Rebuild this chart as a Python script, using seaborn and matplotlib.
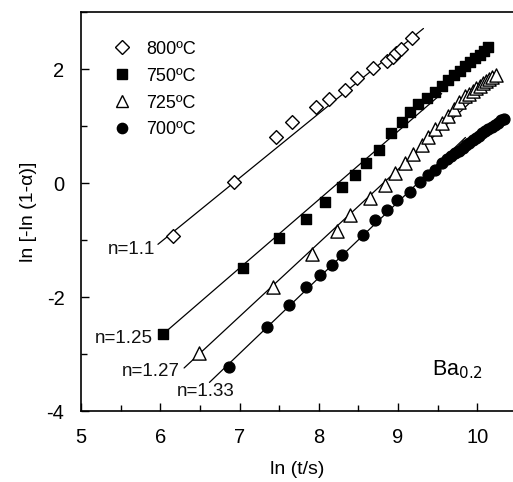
import numpy as np
import pandas as pd
import matplotlib
matplotlib.use("Agg")
import matplotlib.pyplot as plt
import seaborn as sns
from matplotlib.lines import Line2D
from matplotlib.ticker import MultipleLocator

# ---- data ----
temps = ["800ºC", "750ºC", "725ºC", "700ºC"]

x800 = [6.16, 6.93, 7.46, 7.66, 7.97, 8.13, 8.33, 8.48, 8.68, 8.86, 8.93, 8.98, 9.04, 9.18]
y800 = [-0.93, 0.02, 0.80, 1.07, 1.33, 1.47, 1.64, 1.84, 2.01, 2.15, 2.22, 2.28, 2.35, 2.54]

x750 = [6.04, 7.04, 7.50, 7.84, 8.08, 8.29, 8.46, 8.60, 8.76, 8.91, 9.05, 9.15, 9.25, 9.36,
        9.46, 9.55, 9.63, 9.71, 9.78, 9.85, 9.91, 9.97, 10.03, 10.09, 10.14]
y750 = [-2.64, -1.49, -0.96, -0.63, -0.34, -0.07, 0.14, 0.35, 0.58, 0.88, 1.07, 1.24, 1.38, 1.49,
        1.60, 1.70, 1.80, 1.89, 1.97, 2.05, 2.12, 2.19, 2.25, 2.32, 2.38]

x725 = [6.49, 7.42, 7.91, 8.23, 8.39, 8.65, 8.84, 8.96, 9.09, 9.19, 9.30, 9.38, 9.47, 9.55,
        9.63, 9.70, 9.77, 9.84, 9.89, 9.94, 9.98, 10.03, 10.07, 10.11, 10.15, 10.19, 10.24]
y725 = [-2.98, -1.82, -1.24, -0.84, -0.56, -0.26, -0.04, 0.18, 0.35, 0.51, 0.67, 0.81, 0.94, 1.06,
        1.18, 1.30, 1.42, 1.52, 1.57, 1.62, 1.67, 1.71, 1.75, 1.79, 1.83, 1.86, 1.90]

x700 = [6.87, 7.35, 7.63, 7.84, 8.02, 8.17, 8.29, 8.56, 8.71, 8.86, 8.99, 9.15, 9.28, 9.38,
        9.47, 9.56, 9.62, 9.67, 9.72, 9.77, 9.82, 9.86, 9.90, 9.94, 9.98, 10.02, 10.06,
        10.10, 10.14, 10.18, 10.22, 10.26, 10.30, 10.34]
y700 = [-3.22, -2.52, -2.14, -1.82, -1.61, -1.44, -1.26, -0.91, -0.65, -0.47, -0.30, -0.16, 0.02, 0.14,
        0.23, 0.35, 0.42, 0.47, 0.52, 0.57, 0.62, 0.67, 0.71, 0.75, 0.79, 0.83, 0.87,
        0.91, 0.95, 0.99, 1.02, 1.06, 1.10, 1.13]

# fitted lines (slope, intercept, x-range)
fit_slope = [1.13, 1.20, 1.29, 1.33]
fit_icpt = [-7.82, -9.89, -11.37, -12.30]
fit_xmin = [5.97, 6.06, 6.30, 6.62]
fit_xmax = [9.32, 9.55, 9.93, 9.85]

n_labels = ["n=1.1", "n=1.25", "n=1.27", "n=1.33"]
n_label_x = [5.93, 5.91, 6.25, 6.94]
n_label_y = [-1.17, -2.73, -3.30, -3.66]

# ---- style ----
sns.set_theme(style="ticks")
plt.rcParams["font.family"] = ["Liberation Sans", "DejaVu Sans"]
plt.rcParams["axes.unicode_minus"] = False
plt.rcParams["text.color"] = "black"
plt.rcParams["axes.labelcolor"] = "black"
plt.rcParams["xtick.color"] = "black"
plt.rcParams["ytick.color"] = "black"

fig = plt.figure(figsize=(5.13, 4.82), dpi=100)
ax = fig.add_axes([0.158, 0.147, 0.842, 0.828])

xs = [x800, x750, x725, x700]
ys = [y800, y750, y725, y700]
markers = ["D", "s", "^", "o"]
filled = [False, True, False, True]
sizes = [7.0, 7.0, 9.5, 7.8]

for i in range(4):
    xl = np.array([fit_xmin[i], fit_xmax[i]])
    line_df = pd.DataFrame({"x": xl, "y": fit_slope[i] * xl + fit_icpt[i]})
    sns.lineplot(data=line_df, x="x", y="y", ax=ax, color="black", lw=0.9, zorder=2)

for i in range(4):
    df = pd.DataFrame({"x": xs[i], "y": ys[i]})
    sns.scatterplot(data=df, x="x", y="y", ax=ax, marker=markers[i], s=sizes[i] ** 2,
                    facecolor="black" if filled[i] else "white", edgecolor="black",
                    linewidth=1.0, zorder=3)

for i in range(4):
    ax.text(n_label_x[i], n_label_y[i], n_labels[i], ha="right", va="center",
            fontsize=13.5, color="#111111")

ax.text(9.43, -3.27, "Ba$_{0.2}$", ha="left", va="center", fontsize=15.5)

ax.set_xlim(5, 10.45)
ax.set_ylim(-4, 3)
ax.xaxis.set_major_locator(MultipleLocator(1))
ax.xaxis.set_minor_locator(MultipleLocator(0.5))
ax.set_yticks([-4, -2, 0, 2])
ax.yaxis.set_minor_locator(MultipleLocator(1))
ax.tick_params(which="major", direction="in", length=6, width=1, labelsize=14.5, color="black")
ax.tick_params(axis="y", which="major", pad=12)
ax.tick_params(axis="x", which="major", pad=12)
ax.tick_params(which="minor", direction="in", length=4, width=1, color="black")
ax.set_xlabel("ln (t/s)", fontsize=14, labelpad=10)
ax.set_ylabel("ln [-ln (1-α)]", fontsize=14, labelpad=7)
for sp in ["left", "bottom", "top"]:
    ax.spines[sp].set_color("black")
    ax.spines[sp].set_linewidth(1.2)
ax.spines["right"].set_visible(False)

handles = [Line2D([], [], linestyle="none", marker=markers[i], markersize=sizes[i] * 0.95,
                  markerfacecolor="black" if filled[i] else "white",
                  markeredgecolor="black", markeredgewidth=1.0) for i in range(4)]
ax.legend(handles, temps, loc="upper left", bbox_to_anchor=(0.035, 0.96), frameon=False,
          fontsize=13, handletextpad=0.55, labelspacing=0.55, borderaxespad=0.3,
          handlelength=1.5)

fig.savefig("out.png", dpi=100)
